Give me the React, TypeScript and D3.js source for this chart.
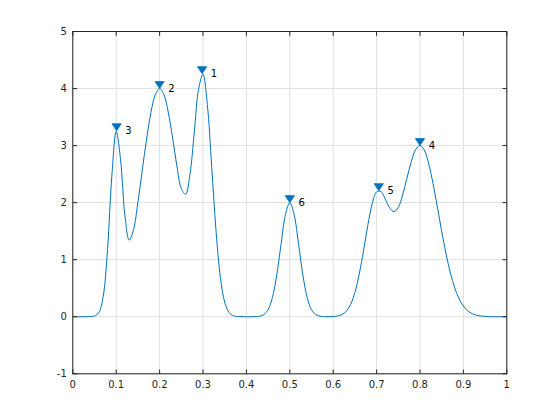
import React from "react";
import * as d3 from "d3";

const xValues = [
  0.0, 0.01, 0.02, 0.03, 0.04, 0.05, 0.06, 0.07, 0.08, 0.09,
  0.1, 0.11, 0.12, 0.13, 0.14, 0.15, 0.16, 0.17, 0.18, 0.19,
  0.2, 0.21, 0.22, 0.23, 0.24, 0.25, 0.26, 0.27, 0.28, 0.29,
  0.3, 0.31, 0.32, 0.33, 0.34, 0.35, 0.36, 0.37, 0.38, 0.39,
  0.4, 0.41, 0.42, 0.43, 0.44, 0.45, 0.46, 0.47, 0.48, 0.49,
  0.5, 0.51, 0.52, 0.53, 0.54, 0.55, 0.56, 0.57, 0.58, 0.59,
  0.6, 0.61, 0.62, 0.63, 0.64, 0.65, 0.66, 0.67, 0.68, 0.69,
  0.7, 0.71, 0.72, 0.73, 0.74, 0.75, 0.76, 0.77, 0.78, 0.79,
  0.8, 0.81, 0.82, 0.83, 0.84, 0.85, 0.86, 0.87, 0.88, 0.89,
  0.9, 0.91, 0.92, 0.93, 0.94, 0.95, 0.96, 0.97, 0.98, 0.99,
  1.0,
];

const yValues = [
  0, 0, 0, 0.001, 0.004, 0.013, 0.072, 0.353, 1.177, 2.475,
  3.249, 2.758, 1.78, 1.342, 1.527, 2.004, 2.565, 3.115, 3.579, 3.89,
  4.0, 3.891, 3.582, 3.132, 2.638, 2.247, 2.148, 2.498, 3.241, 4.001,
  4.249, 3.718, 2.638, 1.509, 0.693, 0.257, 0.076, 0.018, 0.004, 0.001,
  0, 0, 0.002, 0.009, 0.037, 0.124, 0.338, 0.736, 1.282, 1.79,
  2.0, 1.79, 1.282, 0.736, 0.338, 0.124, 0.037, 0.009, 0.002, 0.001,
  0.004, 0.013, 0.037, 0.095, 0.213, 0.425, 0.749, 1.167, 1.613, 1.983,
  2.187, 2.195, 2.065, 1.909, 1.84, 1.917, 2.135, 2.43, 2.721, 2.931,
  3.004, 2.919, 2.684, 2.336, 1.924, 1.498, 1.104, 0.769, 0.507, 0.316,
  0.187, 0.104, 0.055, 0.027, 0.013, 0.006, 0.002, 0.001, 0, 0,
  0,
];

const peakX = [0.298, 0.2, 0.101, 0.8, 0.705, 0.5];
const peakY = [4.26, 4.0, 3.26, 3.0, 2.21, 2.0];
const peakLabels = ["1", "2", "3", "4", "5", "6"];

const xTicks = [0, 0.1, 0.2, 0.3, 0.4, 0.5, 0.6, 0.7, 0.8, 0.9, 1];
const xTickLabels = ["0", "0.1", "0.2", "0.3", "0.4", "0.5", "0.6", "0.7", "0.8", "0.9", "1"];
const yTicks = [-1, 0, 1, 2, 3, 4, 5];
const yTickLabels = ["-1", "0", "1", "2", "3", "4", "5"];

const W = 560;
const H = 420;
const left = 72.8;
const right = 72.8 + 434;
const top = 31.5;
const bottom = 373.8;

const LINE = "#0072BD";
const AXIS = "#262626";
const GRID = "#dfdfdf";
const FONT = "DejaVu Sans, Helvetica, Arial, sans-serif";

export default function App() {
  const x = d3.scaleLinear().domain([0, 1]).range([left, right]);
  const y = d3.scaleLinear().domain([-1, 5]).range([bottom, top]);
  const pts: [number, number][] = xValues.map((v, i) => [v, yValues[i]]);
  const line = d3
    .line<[number, number]>()
    .x((d) => x(d[0]))
    .y((d) => y(d[1]))
    .curve(d3.curveCatmullRom.alpha(0.5));
  const tick = 4.3;
  const mw = 4.6;
  const mh = 7;

  return (
    <svg
      width={W}
      height={H}
      style={{ position: "fixed", left: 0, top: 0, background: "#fff" }}
      fontFamily={FONT}
    >
      <rect x={0} y={0} width={W} height={H} fill="#fff" />
      {/* grid */}
      {xTicks.map((t) => (
        <line key={"gx" + t} x1={x(t)} x2={x(t)} y1={top} y2={bottom} stroke={GRID} strokeWidth={1} />
      ))}
      {yTicks.map((t) => (
        <line key={"gy" + t} x1={left} x2={right} y1={y(t)} y2={y(t)} stroke={GRID} strokeWidth={1} />
      ))}
      {/* data line */}
      <path d={line(pts) || ""} fill="none" stroke={LINE} strokeWidth={1} />
      {/* peak markers */}
      {peakX.map((px, i) => {
        const cx = x(px);
        const cy = y(peakY[i]);
        return (
          <path
            key={"m" + i}
            d={`M${cx - mw},${cy - mh}L${cx + mw},${cy - mh}L${cx},${cy}Z`}
            fill={LINE}
            stroke={LINE}
            strokeWidth={0.8}
          />
        );
      })}
      {/* peak labels */}
      {peakX.map((px, i) => (
        <text
          key={"l" + i}
          x={x(px + 0.02)}
          y={y(peakY[i])}
          dominantBaseline="middle"
          fontSize={10}
          fill="#000"
        >
          {peakLabels[i]}
        </text>
      ))}
      {/* box */}
      <rect x={left} y={top} width={right - left} height={bottom - top} fill="none" stroke={AXIS} strokeWidth={1} />
      {/* ticks */}
      {xTicks.map((t) => (
        <g key={"tx" + t}>
          <line x1={x(t)} x2={x(t)} y1={bottom} y2={bottom - tick} stroke={AXIS} />
          <line x1={x(t)} x2={x(t)} y1={top} y2={top + tick} stroke={AXIS} />
        </g>
      ))}
      {yTicks.map((t) => (
        <g key={"ty" + t}>
          <line x1={left} x2={left + tick} y1={y(t)} y2={y(t)} stroke={AXIS} />
          <line x1={right} x2={right - tick} y1={y(t)} y2={y(t)} stroke={AXIS} />
        </g>
      ))}
      {/* tick labels */}
      {xTicks.map((t, i) => (
        <text
          key={"xl" + t}
          x={x(t)}
          y={bottom + 11}
          textAnchor="middle"
          dominantBaseline="middle"
          fontSize={10}
          fill={AXIS}
        >
          {xTickLabels[i]}
        </text>
      ))}
      {yTicks.map((t, i) => (
        <text
          key={"yl" + t}
          x={left - 6}
          y={y(t)}
          textAnchor="end"
          dominantBaseline="middle"
          fontSize={10}
          fill={AXIS}
        >
          {yTickLabels[i]}
        </text>
      ))}
    </svg>
  );
}
